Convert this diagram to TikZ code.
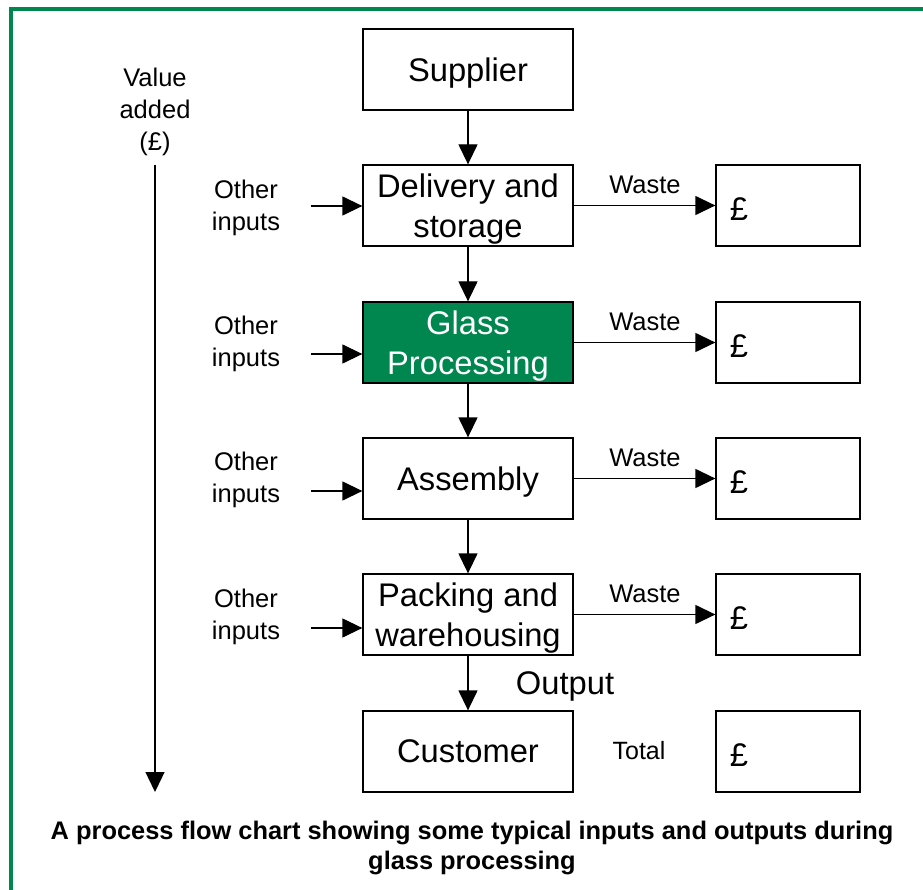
\documentclass[tikz,border=0pt]{standalone}
\usepackage{fontspec}
\setmainfont{Liberation Sans}
\usetikzlibrary{arrows.meta}
\definecolor{dgreen}{RGB}{0,135,80}
\begin{document}
\begin{tikzpicture}[x=1pt,y=-1pt,
  proc/.style={draw,line width=1.3pt,minimum width=210pt,minimum height=81pt,inner sep=0pt,text depth=0pt,align=center,font=\fontsize{32.7}{40}\selectfont},
  cash/.style={draw,line width=1.3pt,minimum width=144pt,minimum height=81pt,inner sep=0pt},
  lbl/.style={inner sep=0pt,text depth=0pt,align=center,font=\fontsize{25.5}{32}\selectfont},
  big/.style={inner sep=0pt,text depth=0pt,font=\fontsize{32.7}{40}\selectfont},
  arr/.style={line width=1.3pt,-{Triangle[length=20pt,width=19pt]}},
]
\useasboundingbox (0,0) rectangle (923,890);
\fill[white] (0,0) rectangle (923,890);
\draw[dgreen,line width=4pt] (11,890) -- (11,9) -- (923,9);

% process column
\node[proc] (sup) at (468,69.5) {Supplier};
\node[proc] (del) at (468,205.5) {Delivery and\\storage};
\node[proc,fill=dgreen,text=white] (gla) at (468,342.5) {Glass\\Processing};
\node[proc] (ass) at (468,478.5) {Assembly};
\node[proc] (pac) at (468,614.5) {Packing and\\warehousing};
\node[proc] (cus) at (468,751.5) {Customer};

\draw[arr] (sup) -- (del);
\draw[arr] (del) -- (gla);
\draw[arr] (gla) -- (ass);
\draw[arr] (ass) -- (pac);
\draw[arr] (pac) -- (cus);

% cost boxes
\node[cash] (w1) at (788,205.5) {};
\node[cash] (w2) at (788,342.5) {};
\node[cash] (w3) at (788,478.5) {};
\node[cash] (w4) at (788,614.5) {};
\node[cash] (w5) at (788,751.5) {};
\node[big] (p1) at (739,209) {£};
\node[big] (p2) at (739,346) {£};
\node[big] (p3) at (739,482) {£};
\node[big] (p4) at (739,618) {£};
\node[big] (p5) at (739,755) {£};

% waste arrows
\draw[arr] (del.east) -- (w1.west);
\draw[arr] (gla.east) -- (w2.west);
\draw[arr] (ass.east) -- (w3.west);
\draw[arr] (pac.east) -- (w4.west);
\node[lbl] (wl1) at (645,185) {Waste};
\node[lbl] (wl2) at (645,322) {Waste};
\node[lbl] (wl3) at (645,458) {Waste};
\node[lbl] (wl4) at (645,594) {Waste};

% other inputs
\node[lbl] (oi1) at (246,205) {Other\\inputs};
\node[lbl] (oi2) at (246,341) {Other\\inputs};
\node[lbl] (oi3) at (246,477.5) {Other\\inputs};
\node[lbl] (oi4) at (246,614) {Other\\inputs};
\coordinate (i1) at (311,206);
\coordinate (i2) at (311,354);
\coordinate (i3) at (311,491);
\coordinate (i4) at (311,628);
\draw[arr] (i1) -- (i1 -| del.west);
\draw[arr] (i2) -- (i2 -| gla.west);
\draw[arr] (i3) -- (i3 -| ass.west);
\draw[arr] (i4) -- (i4 -| pac.west);

% output / total
\node[big] (out) at (565,683) {Output};
\node[lbl,font=\fontsize{25}{30}\selectfont] (tot) at (639,750) {Total};

% value added axis
\node[lbl] (va) at (155,109) {Value\\added\\(£)};
\coordinate (va1) at (155,165);
\coordinate (va2) at (155,792);
\draw[arr] (va1) -- (va2);

% caption
\node[inner sep=0pt,align=center,font=\bfseries\fontsize{25.4}{30}\selectfont] (cap) at (472,848) {A process flow chart showing some typical inputs and outputs during\\glass processing};
\end{tikzpicture}
\end{document}
